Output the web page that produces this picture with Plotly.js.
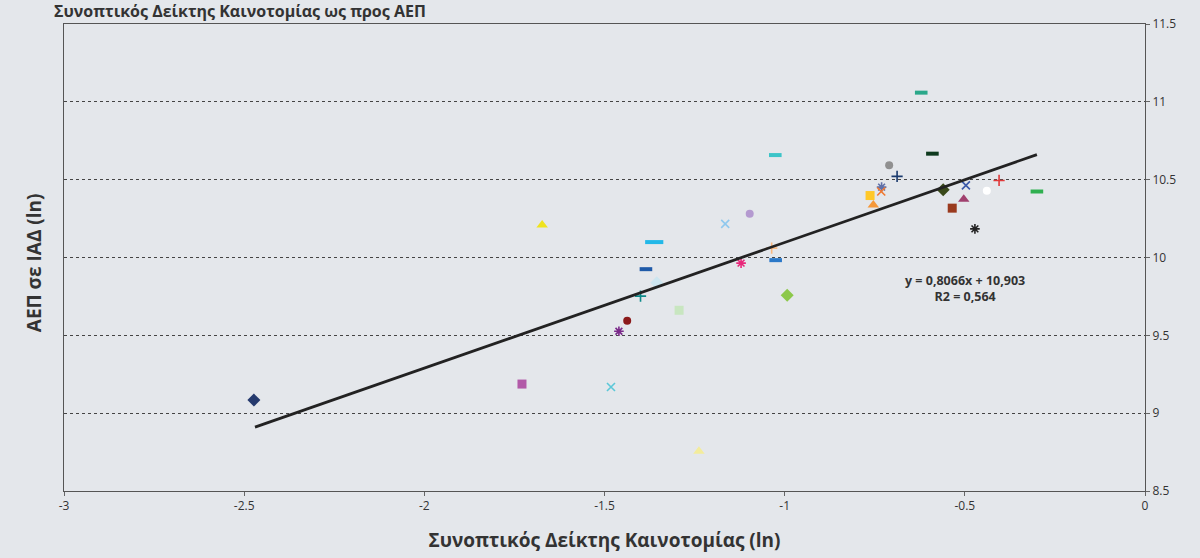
<!DOCTYPE html>
<html>
<head>
<meta charset="utf-8">
<script src="https://cdn.plot.ly/plotly-3.0.1.min.js"></script>
<style>html,body{margin:0;padding:0;background:#e4e7eb;}#chart{width:1200px;height:558px;}</style>
</head>
<body>
<div id="chart"></div>
<script>
// Data (ln of innovation index vs ln GDP per PPS)
const innovationLn = [-2.473,-1.729,-1.482,-1.238,-1.673,-1.362,-1.385,-1.355,-1.400,-1.293,
  -1.437,-1.460,-1.165,-1.097,-1.121,-1.036,-1.025,-0.993,-1.026,-0.710,
  -0.590,-0.621,-0.688,-0.731,-0.732,-0.763,-0.754,-0.560,-0.497,-0.503,
  -0.535,-0.439,-0.405,-0.472,-0.300];
const gdpLn = [9.084,9.187,9.168,8.756,10.209,10.099,9.925,9.838,9.752,9.661,
  9.594,9.526,10.216,10.281,9.964,10.060,9.983,9.757,10.658,10.592,
  10.667,11.059,10.521,10.452,10.424,10.398,10.338,10.435,10.463,10.375,
  10.317,10.429,10.495,10.184,10.424];
const trendSlope = 0.8066;
const trendIntercept = 10.903;
const trendRange = [-2.47, -0.3];
const xTickVals = [-3,-2.5,-2,-1.5,-1,-0.5,0];
const xTickText = ['-3','-2.5','-2','-1.5','-1','-0.5','0'];
const yTickVals = [8.5,9,9.5,10,10.5,11,11.5];
const yTickText = ['8.5','9','9.5','10','10.5','11','11.5'];
const chartTitle = 'Συνοπτικός Δείκτης Καινοτομίας ως προς ΑΕΠ';
const xTitle = 'Συνοπτικός Δείκτης Καινοτομίας (ln)';
const yTitle = 'ΑΕΠ σε ΙΑΔ (ln)';
const eqText = 'y = 0,8066x + 10,903';
const r2Text = 'R2 = 0,564';

// Marker styles (one per point, like separate Excel series)
const symbols = ['diamond','square','x-thin','triangle-up','triangle-up','line-ew','line-ew','diamond','cross-thin','square',
  'circle','asterisk','x-thin','circle','asterisk','cross-thin','line-ew','diamond','line-ew','circle',
  'line-ew','line-ew','cross-thin','asterisk','x-thin','square','triangle-up','diamond','x-thin','triangle-up',
  'square','circle','cross-thin','asterisk','line-ew'];
const colors = ['#253a6e','#b25aa8','#5bc8d8','#f3ec9c','#efe31e','#22b8e8','#1f5aa8','#cde6f0','#0d8a8a','#c8e6c0',
  '#8b1a1a','#7a2a8a','#8fc8ee','#b49ad0','#e8287a','#f8b880','#2a78c8','#8cc84a','#3cc4c8','#909090',
  '#0e3a1e','#2aa88a','#1a3a6e','#6070a8','#f07830','#ffc828','#f5983a','#3a4a1a','#3a58a8','#a0406e',
  '#9a3a1e','#ffffff','#e03a3a','#222222','#30b050'];
const sizes = symbols.map((s,i)=> s==='line-ew' ? (i===5 ? 13 : 9) : (s==='circle'?8:(s==='square'?9:(s==='diamond'||s==='triangle-up'?10:8))));
const lineWidths = symbols.map(s => s==='line-ew' ? 4 : (s==='x-thin'||s==='cross-thin'||s==='asterisk' ? 1.6 : 0));

const points = {
  type:'scatter', mode:'markers', x: innovationLn, y: gdpLn, hoverinfo:'x+y',
  marker:{symbol: symbols, color: colors, size: sizes, opacity:1, line:{color: colors, width: lineWidths}}
};
const trend = {
  type:'scatter', mode:'lines', x: trendRange, y: trendRange.map(v => trendSlope*v + trendIntercept),
  line:{color:'#222222', width:2.8}, hoverinfo:'skip'
};

const font = "'Open Sans', 'Noto Sans', sans-serif";
const layout = {
  width:1200, height:558,
  paper_bgcolor:'#e4e7eb', plot_bgcolor:'#e4e7eb',
  margin:{l:64, r:55, t:24, b:67},
  showlegend:false,
  font:{family: font, color:'#333', size:12},
  xaxis:{range:[-3,0], tickvals:xTickVals, ticktext:xTickText, ticks:'outside', ticklen:4, tickcolor:'#666',
    showline:true, linecolor:'#555', linewidth:1, mirror:true, showgrid:false, zeroline:false,
    tickfont:{size:12, color:'#333'},
    title:{text:xTitle, font:{size:19, color:'#333', weight:'bold'}, standoff:20}},
  yaxis:{range:[8.5,11.5], side:'right', tickvals:yTickVals, ticktext:yTickText, ticks:'outside', ticklen:4, tickcolor:'#666',
    showline:true, linecolor:'#555', linewidth:1, mirror:true, zeroline:false,
    showgrid:true, gridcolor:'#444', gridwidth:1, griddash:'3px,3px',
    tickfont:{size:12, color:'#333'}},
  annotations:[
    {text:yTitle, xref:'paper', yref:'paper', x:-0.028, y:0.5, yshift:-5, textangle:-90, showarrow:false,
      font:{size:19, color:'#333', weight:'bold'}, xanchor:'center', yanchor:'middle'},
    {text:eqText + '<br>' + r2Text, xref:'x', yref:'y', x:-0.5, y:9.8, showarrow:false, align:'center',
      font:{size:12.5, color:'#333', weight:'bold'}},
    {text:chartTitle, xref:'paper', yref:'paper', x:-0.011, y:1.0, xanchor:'left', yanchor:'bottom', yshift:0, showarrow:false,
      font:{size:16, color:'#333', weight:'bold'}}
  ]
};
Plotly.newPlot('chart', [points, trend], layout, {displayModeBar:false, staticPlot:true});
</script>
</body>
</html>
